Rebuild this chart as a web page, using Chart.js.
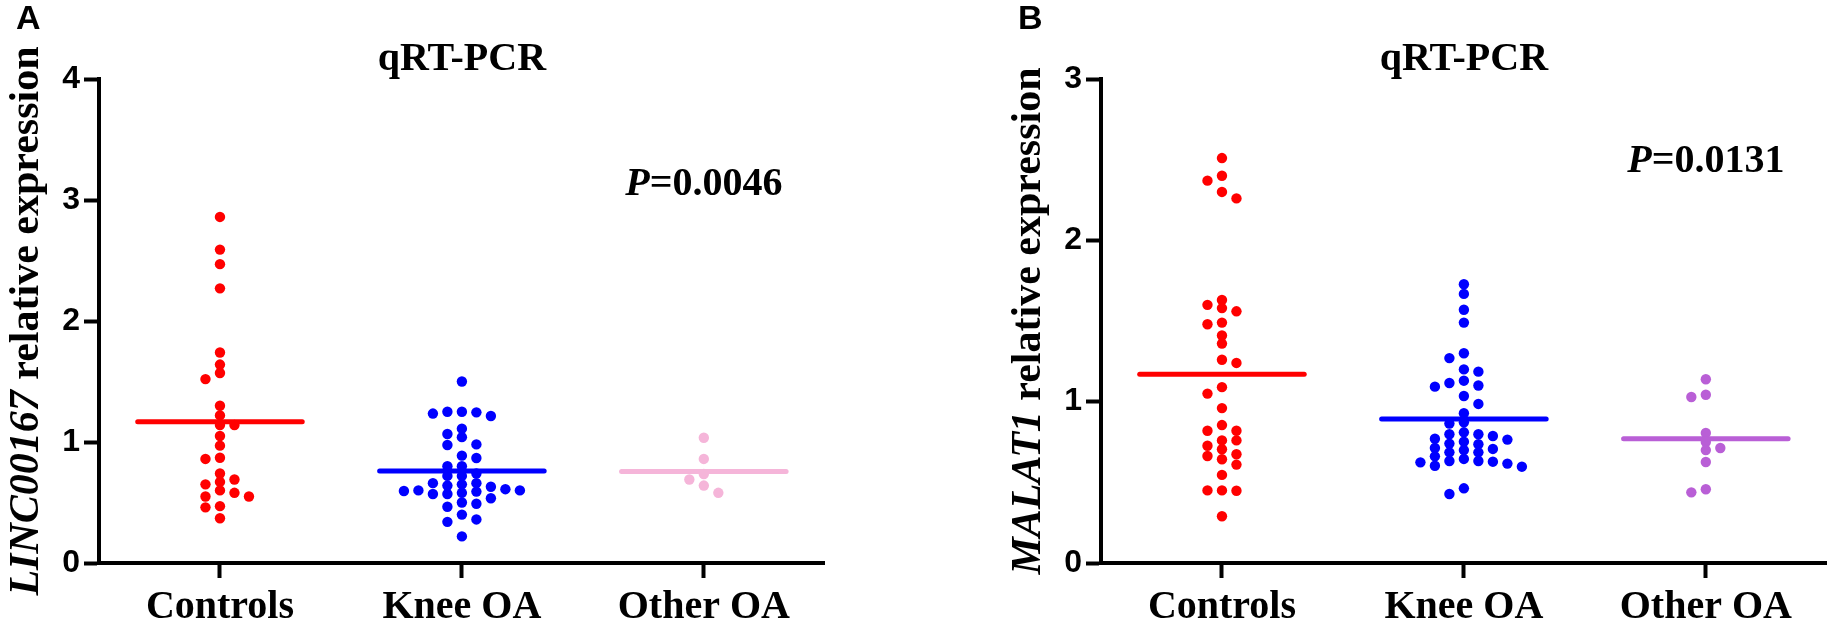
<!DOCTYPE html>
<html>
<head>
<meta charset="utf-8">
<script src="https://cdn.jsdelivr.net/npm/chart.js@4.4.1/dist/chart.umd.min.js"></script>
<style>
  html, body { margin: 0; padding: 0; background: #fff; }
  #wrap { position: relative; width: 1832px; height: 623px; overflow: hidden; background: #fff; }
  .panel { position: absolute; top: 0; width: 830px; height: 623px; }
</style>
</head>
<body>
<div id="wrap">
  <div class="panel" style="left:0px"><canvas id="cA" width="830" height="623"></canvas></div>
  <div class="panel" style="left:1002px"><canvas id="cB" width="830" height="623"></canvas></div>
</div>
<script>
// ---------------- DATA ----------------
const categories = ["Controls", "Knee OA", "Other OA"];

// Panel A: LINC00167 relative expression
const controlsA = [2.86, 2.59, 2.47, 2.27, 1.74, 1.64, 1.57, 1.52, 1.30, 1.22, 1.14, 1.14, 1.05, 0.97,
  0.87, 0.86, 0.74, 0.69, 0.67, 0.65, 0.60, 0.58, 0.55, 0.55, 0.47, 0.46, 0.37];
const kneeA = [1.50, 1.25, 1.25, 1.245, 1.235, 1.215, 1.11, 1.066, 1.04, 0.98, 0.975, 0.887, 0.868,
  0.80, 0.80, 0.74, 0.72, 0.72, 0.66, 0.66, 0.65, 0.64, 0.63, 0.61, 0.60, 0.60, 0.595, 0.59, 0.58,
  0.57, 0.57, 0.535, 0.50, 0.49, 0.465, 0.40, 0.36, 0.34, 0.22];
const otherA = [1.035, 0.86, 0.735, 0.69, 0.64, 0.58];

// Panel B: MALAT1 relative expression
const controlsB = [2.51, 2.40, 2.37, 2.30, 2.26, 1.63, 1.60, 1.58, 1.56, 1.49, 1.48, 1.41, 1.36, 1.26,
  1.24, 1.09, 1.05, 0.96, 0.855, 0.82, 0.82, 0.76, 0.76, 0.727, 0.705, 0.674, 0.663, 0.643, 0.61,
  0.546, 0.45, 0.45, 0.448, 0.29];
const kneeB = [1.728, 1.668, 1.57, 1.49, 1.30, 1.27, 1.20, 1.186, 1.13, 1.116, 1.10, 1.093, 1.035,
  0.986, 0.928, 0.872, 0.864, 0.81, 0.798, 0.798, 0.787, 0.77, 0.765, 0.752, 0.74, 0.736, 0.713,
  0.707, 0.70, 0.686, 0.686, 0.661, 0.645, 0.632, 0.632, 0.628, 0.624, 0.616, 0.603, 0.597,
  0.463, 0.428];
const otherB = [1.139, 1.043, 1.029, 0.806, 0.75, 0.713, 0.70, 0.626, 0.457, 0.438];

const yTicksA = [0, 1, 2, 3, 4];
const yTicksB = [0, 1, 2, 3];
const pTextA = "0.0046";
const pTextB = "0.0131";
const geneA = "LINC00167";
const geneB = "MALAT1";

// ---------------- STYLE / LAYOUT ----------------
const colorsA = ["#FF0000", "#0000FF", "#F5B5D9"];
const colorsB = ["#FF0000", "#0000FF", "#B95FD6"];
const PLOT_TOP = 79, PLOT_H = 484, AXIS_W = 99, CAT_PX = 242;
const SLOT_PX = 14.5, GAP_PX = 8, DOT_R = 5.2, HALF_LINE = 0.34;

function mean(a) { return a.reduce((s, v) => s + v, 0) / a.length; }

// simple beeswarm: horizontal slot for each value so dots in one column do not overlap
function swarm(vals, pxPerUnit) {
  const order = vals.map((v, i) => i).sort((a, b) => vals[b] - vals[a]);
  const placed = [];
  const slots = new Array(vals.length);
  let left = 0, right = 0;
  for (const i of order) {
    const y = vals[i] * pxPerUnit;
    const free = s => !placed.some(p => p.slot === s && Math.abs(p.y - y) < GAP_PX);
    let s = 0;
    if (!free(0)) {
      for (let k = 1; k < 50; k++) {
        const first = left <= right ? -k : k;
        if (free(first)) { s = first; break; }
        if (free(-first)) { s = -first; break; }
      }
    }
    if (s < 0) left++; else if (s > 0) right++;
    placed.push({ slot: s, y });
    slots[i] = s;
  }
  return slots;
}

function drawMixed(ctx, parts, cx, cy) {
  let total = 0;
  parts.forEach(p => { ctx.font = p.f; p.w = ctx.measureText(p.t).width; total += p.w; });
  let x = cx - total / 2;
  ctx.textAlign = 'left';
  ctx.textBaseline = 'middle';
  parts.forEach(p => { ctx.font = p.f; ctx.fillText(p.t, x, cy); x += p.w; });
}

const SERIF = '"Liberation Serif", "Times New Roman", serif';
const SANS = '"Liberation Sans", Arial, sans-serif';

const textPlugin = {
  id: 'panelText',
  afterDraw(chart, args, o) {
    const { ctx, chartArea, scales } = chart;
    ctx.save();
    ctx.fillStyle = '#000';
    // panel letter
    ctx.font = 'bold 34px ' + SANS;
    ctx.textAlign = 'left';
    ctx.textBaseline = 'top';
    ctx.fillText(o.letter, 16, 3);
    // title
    ctx.font = 'bold 40px ' + SERIF;
    ctx.textAlign = 'center';
    ctx.textBaseline = 'middle';
    ctx.fillText(o.title, (chartArea.left + chartArea.right) / 2, 60);
    // P value
    drawMixed(ctx, [
      { t: 'P', f: 'italic bold 40px ' + SERIF },
      { t: '=' + o.p, f: 'bold 40px ' + SERIF }
    ], scales.x.getPixelForValue(o.pPos[0]), scales.y.getPixelForValue(o.pPos[1]));
    // y-axis title (rotated)
    ctx.translate(27, (chartArea.top + chartArea.bottom) / 2);
    ctx.rotate(-Math.PI / 2);
    drawMixed(ctx, [
      { t: o.gene, f: 'italic bold 42px ' + SERIF },
      { t: ' relative expression', f: 'bold 42px ' + SERIF }
    ], 0, 0);
    ctx.restore();
  }
};

function makeChart(canvasId, groups, colors, yTicks, letter, gene, p, pPos) {
  const yMax = yTicks[yTicks.length - 1];
  const pxPerUnit = PLOT_H / yMax;
  const slotUnit = SLOT_PX / CAT_PX;
  const datasets = [];
  groups.forEach((vals, gi) => {
    const m = mean(vals);
    datasets.push({
      type: 'line',
      data: [{ x: gi - HALF_LINE, y: m }, { x: gi + HALF_LINE, y: m }],
      borderColor: colors[gi], borderWidth: 5, borderCapStyle: 'round',
      pointRadius: 0, fill: false, order: 0, clip: false
    });
  });
  groups.forEach((vals, gi) => {
    const slots = swarm(vals, pxPerUnit);
    datasets.push({
      type: 'scatter',
      data: vals.map((v, i) => ({ x: gi + slots[i] * slotUnit, y: v })),
      backgroundColor: colors[gi], borderWidth: 0,
      pointRadius: DOT_R, pointHoverRadius: DOT_R, order: 1, clip: false
    });
  });

  return new Chart(document.getElementById(canvasId), {
    data: { datasets },
    options: {
      responsive: false, animation: false, devicePixelRatio: 1,
      events: [],
      layout: { padding: { top: PLOT_TOP, right: 5, bottom: 0, left: 0 } },
      plugins: {
        legend: { display: false }, tooltip: { enabled: false }, title: { display: false },
        panelText: { letter, title: 'qRT-PCR', gene, p, pPos }
      },
      scales: {
        x: {
          type: 'linear', min: -0.5, max: 2.5,
          afterBuildTicks: ax => { ax.ticks = categories.map((c, i) => ({ value: i })); },
          afterFit: s => { s.height = 623 - PLOT_TOP - PLOT_H; },
          ticks: {
            callback: v => categories[v], color: '#000', padding: 6, maxRotation: 0, autoSkip: false,
            font: { family: SERIF, weight: 'bold', size: 40 }
          },
          grid: { drawOnChartArea: false, drawTicks: true, tickLength: 15, tickWidth: 4, tickColor: '#000' },
          border: { display: true, color: '#000', width: 4 }
        },
        y: {
          type: 'linear', min: 0, max: yMax,
          afterBuildTicks: ax => { ax.ticks = yTicks.map(v => ({ value: v })); },
          afterFit: s => { s.width = AXIS_W; },
          ticks: {
            color: '#000', padding: 4,
            font: { family: SANS, weight: 'bold', size: 32 }
          },
          grid: { drawOnChartArea: false, drawTicks: true, tickLength: 15, tickWidth: 4, tickColor: '#000' },
          border: { display: true, color: '#000', width: 4 }
        }
      }
    },
    plugins: [textPlugin]
  });
}

function build() {
  makeChart('cA', [controlsA, kneeA, otherA], colorsA, yTicksA, 'A', geneA, pTextA, [2.0, 3.13]);
  makeChart('cB', [controlsB, kneeB, otherB], colorsB, yTicksB, 'B', geneB, pTextB, [2.0, 2.49]);
}

const fontLoads = [
  'bold 40px "Liberation Serif"', 'italic bold 40px "Liberation Serif"', 'bold 30px "Liberation Sans"'
].map(f => document.fonts.load(f).catch(() => null));
Promise.all(fontLoads).then(build, build);
</script>
</body>
</html>
